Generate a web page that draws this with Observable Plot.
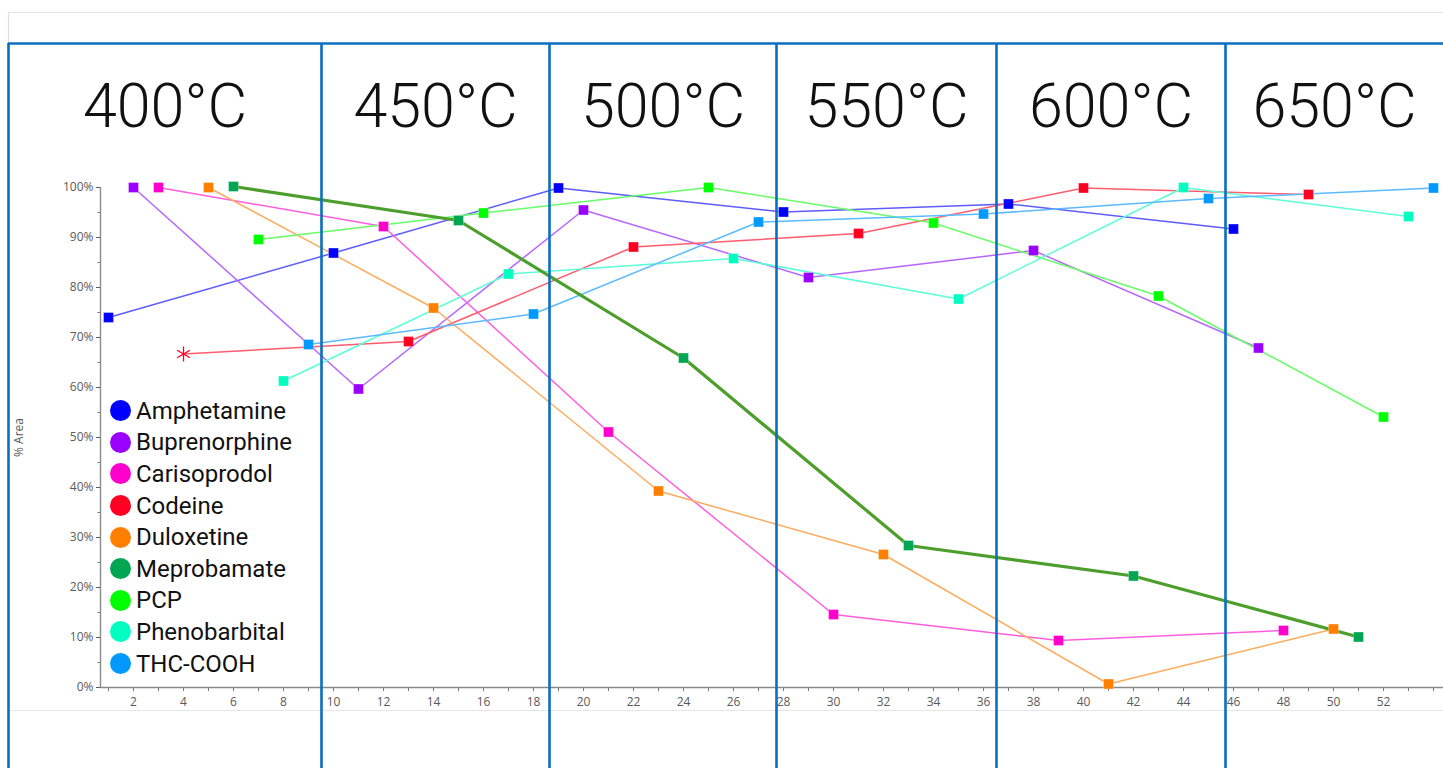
<!DOCTYPE html>
<html>
<head>
<meta charset="utf-8">
<script src="https://cdn.jsdelivr.net/npm/d3@7"></script>
<script src="https://cdn.jsdelivr.net/npm/@observablehq/plot@0.6"></script>
<style>
  html, body { margin: 0; padding: 0; background: #fff; overflow: hidden; }
  #wrap { position: relative; width: 1443px; height: 768px; }
  #legend { position: absolute; left: 110px; top: 395px; font-family: Roboto, sans-serif; font-size: 24px; color: #111; }
  #legend .row { display: flex; align-items: center; height: 31.6px; }
  #legend .sw { width: 21px; height: 21px; border-radius: 50%; margin-right: 5px; flex: none; }
</style>
</head>
<body>
<div id="wrap"></div>
<script>
// ---- data ----
const compounds = ["Amphetamine","Buprenorphine","Carisoprodol","Codeine","Duloxetine","Meprobamate","PCP","Phenobarbital","THC-COOH"];

const runNumbers = [
  [1, 10, 19, 28, 37, 46],
  [2, 11, 20, 29, 38, 47],
  [3, 12, 21, 30, 39, 48],
  [4, 13, 22, 31, 40, 49],
  [5, 14, 23, 32, 41, 50],
  [6, 15, 24, 33, 42, 51],
  [7, 16, 25, 34, 43, 52],
  [8, 17, 26, 35, 44, 53],
  [9, 18, 27, 36, 45, 54]
];

const percentArea = [
  [74.0, 86.9, 99.9, 95.1, 96.7, 91.7],
  [100.0, 59.7, 95.5, 82.0, 87.4, 67.9],
  [100.0, 92.2, 51.1, 14.6, 9.4, 11.4],
  [66.7, 69.2, 88.1, 90.8, 99.9, 98.6],
  [100.0, 75.9, 39.3, 26.6, 0.7, 11.7],
  [100.2, 93.4, 65.9, 28.4, 22.3, 10.1],
  [89.6, 94.9, 100.0, 92.9, 78.3, 54.1],
  [61.3, 82.7, 85.8, 77.7, 100.0, 94.2],
  [68.6, 74.7, 93.1, 94.7, 97.8, 99.9]
];

const temperatures = ["400°C","450°C","500°C","550°C","600°C","650°C"];
// band boundaries, in run-number units
const bandEdges = [-3, 9.52, 18.64, 27.72, 36.52, 45.68, 54.4];

const yTicks = [0,10,20,30,40,50,60,70,80,90,100];
const xTickLabels = [2,4,6,8,10,12,14,16,18,20,22,24,26,28,30,32,34,36,38,40,42,44,46,48,50,52];

// ---- styling ----
const markerColors = ["#0000ff","#9900ff","#ff00cc","#ff0022","#ff8000","#00a651","#00ff00","#00ffc0","#0099ff"];
const lineColors   = ["#5c5cff","#b866ff","#ff5ede","#ff5c6e","#ffab5c","#4c9f2c","#66ff66","#5cffd6","#5cbaff"];

const rows = [];
compounds.forEach((c, i) => runNumbers[i].forEach((r, j) => rows.push({compound: c, i, j, run: r, area: percentArea[i][j]})));

const headers = temperatures.map((t, k) => ({t, x: (bandEdges[k] + bandEdges[k + 1]) / 2}));
const separators = bandEdges.slice(0, 6);

const xMin = 0.68, xMax = 54.4;

const chart = Plot.plot({
  width: 1443,
  height: 768,
  marginLeft: 100,
  marginRight: 0,
  marginTop: 187,
  marginBottom: 81,
  x: {domain: [xMin, xMax]},
  y: {domain: [0, 100]},
  color: {type: "identity"},
  style: {background: "#fff", fontFamily: "'Open Sans', sans-serif"},
  marks: [
    // page frame (light gray)
    Plot.ruleY([135], {x1: -3, x2: xMax, stroke: "#e6e6e6", strokeWidth: 1.2}),
    Plot.ruleX([-3], {y1: 135, y2: 128.8, stroke: "#e0e0e0", strokeWidth: 1.2}),
    Plot.ruleY([-4.6], {x1: -3, x2: xMax, stroke: "#e6e6e6", strokeWidth: 1.2}),

    // axes
    Plot.axisY({ticks: yTicks, tickFormat: d => d + "%", tickSize: 4, tickPadding: 3, fontSize: 12, color: "#5a5a5a",
      label: "% Area", labelAnchor: "center", labelArrow: "none", labelOffset: 86}),
    Plot.axisY({ticks: d3.range(5, 100, 10), tickSize: 2.5, text: null, label: null, color: "#777"}),
    Plot.axisX({ticks: d3.range(1, 55), tickSize: 4, text: null, label: null, color: "#777"}),
    Plot.axisX({ticks: xTickLabels, tickSize: 0, tickPadding: 10, label: null, fontSize: 12, color: "#5a5a5a"}),
    Plot.ruleY([0], {x1: xMin, x2: xMax, stroke: "#8a8a8a", strokeWidth: 1.6}),
    Plot.ruleX([xMin], {y1: 0, y2: 100, stroke: "#8a8a8a", strokeWidth: 1.4}),

    // series lines
    Plot.line(rows.filter(d => d.compound !== "Meprobamate"), {x: "run", y: "area", z: "compound", stroke: d => lineColors[d.i], strokeWidth: 1.5, curve: "linear"}),
    Plot.line(rows.filter(d => d.compound === "Meprobamate"), {x: "run", y: "area", z: "compound", stroke: d => lineColors[d.i], strokeWidth: 3.2, curve: "linear"}),

    // markers
    Plot.dot(rows.filter(d => !(d.compound === "Codeine" && d.j === 0)), {x: "run", y: "area", symbol: "square", r: 5.6, fill: d => markerColors[d.i], stroke: "#fff", strokeOpacity: 0.35, strokeWidth: 0.8}),
    Plot.dot(rows.filter(d => d.compound === "Codeine" && d.j === 0), {x: "run", y: "area", symbol: "asterisk", r: 7, stroke: d => markerColors[d.i], strokeWidth: 1.3}),

    // temperature bands
    Plot.ruleY([128.8], {x1: -3, x2: xMax, stroke: "#0b6fc0", strokeWidth: 2.6}),
    Plot.ruleX(separators, {y1: 128.8, y2: -17, stroke: "#0b6fc0", strokeWidth: 2.6}),
    Plot.text(headers, {x: "x", y: 116.1, text: "t", fontSize: 61, fontWeight: 300, fontFamily: "Roboto, sans-serif", fill: "#111", textAnchor: "middle", lineAnchor: "middle"})
  ]
});

const wrap = document.getElementById("wrap");
wrap.appendChild(chart);

const legend = document.createElement("div");
legend.id = "legend";
compounds.forEach((c, i) => {
  const row = document.createElement("div");
  row.className = "row";
  const sw = document.createElement("span");
  sw.className = "sw";
  sw.style.background = markerColors[i];
  const label = document.createElement("span");
  label.textContent = c;
  row.appendChild(sw);
  row.appendChild(label);
  legend.appendChild(row);
});
wrap.appendChild(legend);
</script>
</body>
</html>
